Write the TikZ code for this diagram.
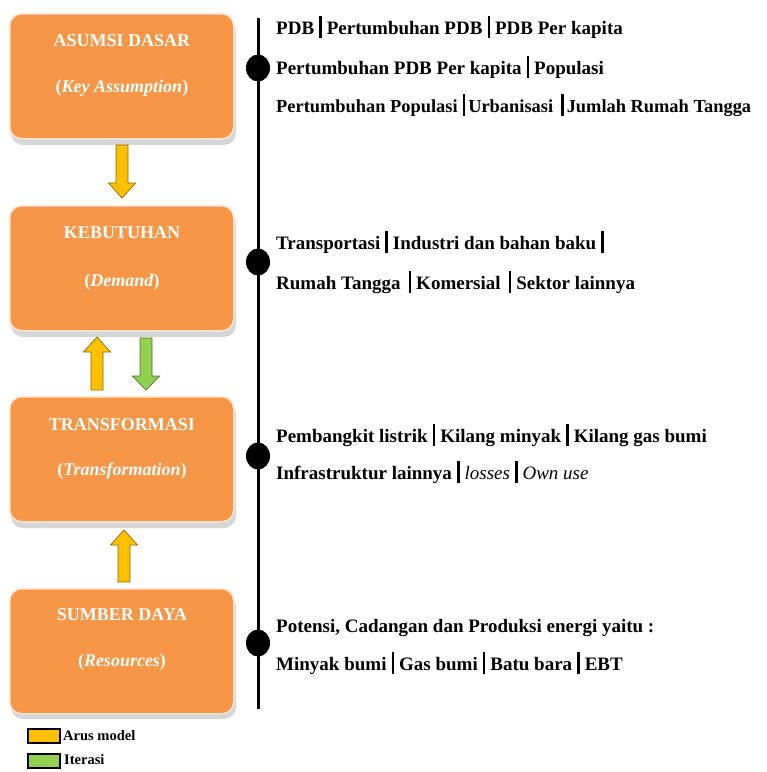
\documentclass[tikz,border=0pt]{standalone}
\usepackage{fontspec}
\setmainfont{Liberation Serif}
\usetikzlibrary{shapes.geometric}
\definecolor{boxorange}{HTML}{F79646}
\definecolor{arrowyellow}{HTML}{FFC000}
\definecolor{arrowgreen}{HTML}{92D050}
\newcommand{\vsep}{\hspace{5pt}\rule[-4pt]{2.6pt}{22pt}\hspace{5pt}}
\newcommand{\vsept}{\hspace{5pt}\rule[-4pt]{2.6pt}{22pt}\hspace{3pt}}
% block arrow: centre x, tail y, head-base y, tip y, style
\newcommand{\blockarr}[5]{\draw[#5] (#1-6,#2) -- (#1+6,#2) -- (#1+6,#3) -- (#1+13.5,#3) -- (#1,#4) -- (#1-13.5,#3) -- (#1-6,#3) -- cycle;}
\begin{document}
\begin{tikzpicture}[x=1pt,y=-1pt,
  stagebox/.style={draw=white!75!boxorange, line width=1.5pt, fill=boxorange, rounded corners=12pt, minimum width=224pt, minimum height=125pt, anchor=north west, inner sep=0pt},
  boxshadow/.style={fill=black!16, rounded corners=12pt},
  title/.style={text=white, font=\bfseries\fontsize{18}{20}\selectfont, anchor=center, inner sep=0pt},
  item/.style={anchor=base west, font=\bfseries\fontsize{19}{21}\selectfont, inner sep=0pt},
  itemnarrow/.style={anchor=base west, font=\bfseries\fontsize{18.4}{21}\selectfont, inner sep=0pt},
  dot/.style={ellipse, fill=black, minimum width=24pt, minimum height=27pt, inner sep=0pt},
  blockarrow/.style={draw=#1!55!black, line width=0.7pt, fill=#1, line join=miter},
  legendbox/.style={draw=black, line width=1.6pt, fill=#1, minimum width=32pt, minimum height=14pt, inner sep=0pt},
  legendtext/.style={anchor=west, font=\bfseries\fontsize{14.5}{16}\selectfont, inner sep=0pt}
]
\useasboundingbox (0,0) rectangle (767,772);
% shadows
\fill[boxshadow] (11,20) rectangle (236,145);
\fill[boxshadow] (11,212) rectangle (236,337);
\fill[boxshadow] (11,403) rectangle (236,528);
\fill[boxshadow] (11,595) rectangle (236,719);
% boxes
\node[stagebox] (b1) at (9,13) {};
\node[stagebox] (b2) at (9,205) {};
\node[stagebox] (b3) at (9,396) {};
\node[stagebox] (b4) at (9,588) {};
\node[title] (t1a) at (122,41) {ASUMSI DASAR};
\node[title] (t1b) at (122,88) {(\textit{Key Assumption})};
\node[title] (t2a) at (122,233) {KEBUTUHAN};
\node[title] (t2b) at (122,282) {(\textit{Demand})};
\node[title] (t3a) at (122,425) {TRANSFORMASI};
\node[title] (t3b) at (122,471) {(\textit{Transformation})};
\node[title] (t4a) at (122,615) {SUMBER DAYA};
\node[title] (t4b) at (122,662) {(\textit{Resources})};
% arrows between stages
\blockarr{122}{145}{183}{198}{blockarrow=arrowyellow}
\blockarr{97}{390}{352}{337}{blockarrow=arrowyellow}
\blockarr{146}{338}{376}{390}{blockarrow=arrowgreen}
\blockarr{124}{582}{545}{530}{blockarrow=arrowyellow}
% timeline
\coordinate (ltop) at (258,18);
\coordinate (lbot) at (258,709);
\draw[line width=3pt] (ltop) -- (lbot);
\node[dot] (d1) at (258,68) {};
\node[dot] (d2) at (258,262) {};
\node[dot] (d3) at (258,456) {};
\node[dot] (d4) at (258,643) {};
% texts
\node[item] (r1) at (276,34) {PDB\vsep Pertumbuhan PDB\vsep PDB Per kapita};
\node[item] (r2) at (276,74) {Pertumbuhan PDB Per kapita\vsep Populasi};
\node[itemnarrow] (r3) at (276,112) {Pertumbuhan Populasi\vsept Urbanisasi\hspace{3pt}\vsept Jumlah Rumah Tangga};
\node[item] (r4) at (276,249) {Transportasi\vsep Industri dan bahan baku\vsep};
\node[item] (r5) at (276,289) {Rumah Tangga\hspace{3pt}\vsep Komersial\hspace{3pt}\vsep Sektor lainnya};
\node[item] (r6) at (276,442) {Pembangkit listrik\vsep Kilang minyak\vsep Kilang gas bumi};
\node[item] (r7) at (276,479) {Infrastruktur lainnya\vsep \mdseries\itshape losses\vsep Own use};
\node[item] (r8) at (276,632) {Potensi, Cadangan dan Produksi energi yaitu :};
\node[item] (r9) at (276,670) {Minyak bumi\vsep Gas bumi\vsep Batu bara\vsep EBT};
% legend
\node[legendbox=arrowyellow] (ly) at (44,736) {};
\node[legendtext] (lyt) at (63,736) {Arus model};
\node[legendbox=arrowgreen] (lg) at (44,761) {};
\node[legendtext] (lgt) at (64,760) {Iterasi};
\end{tikzpicture}
\end{document}
